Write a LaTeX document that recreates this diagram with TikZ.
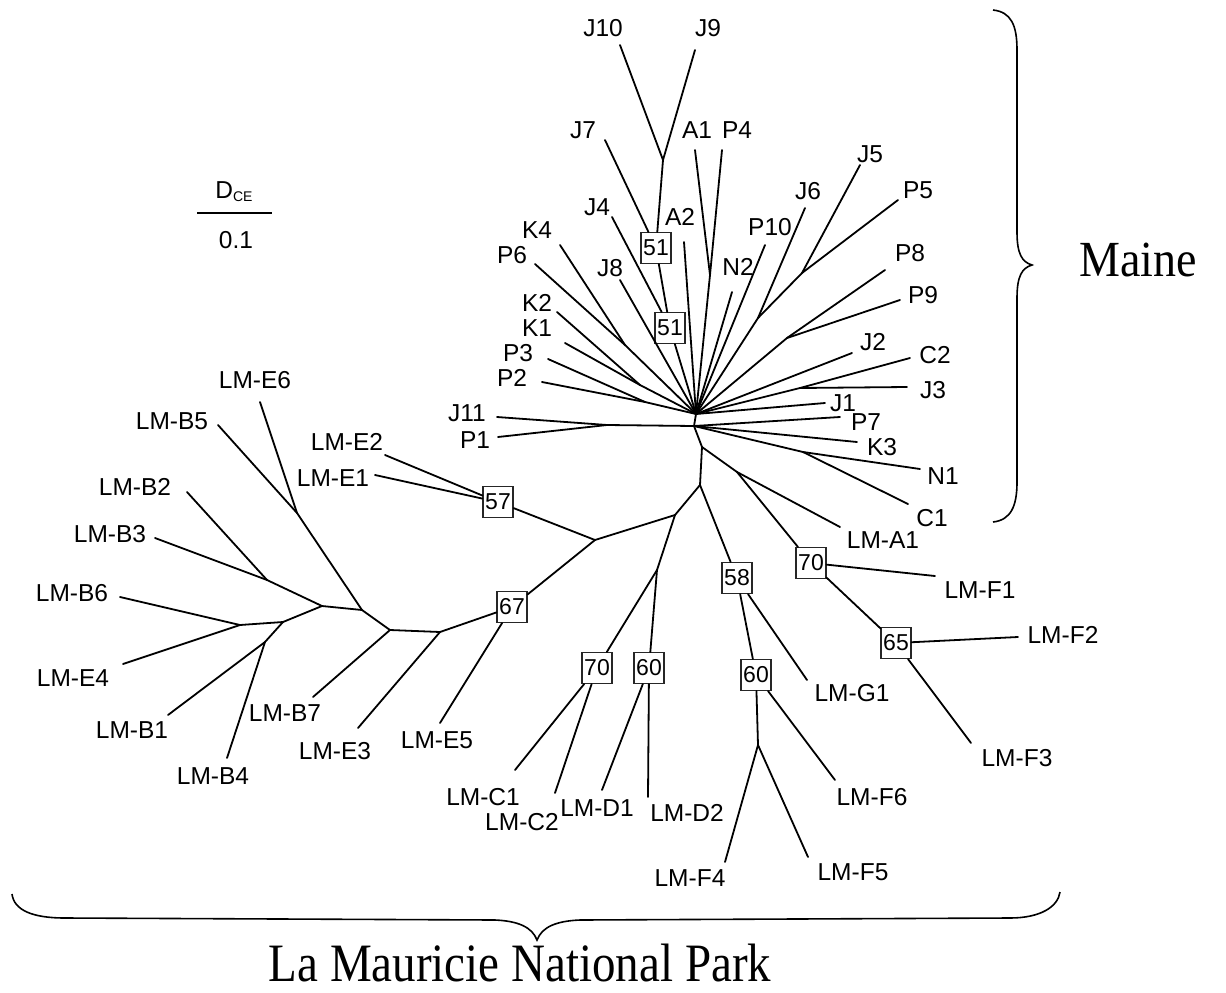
\documentclass[tikz,border=0pt]{standalone}
\usepackage{fontspec}
\setmainfont{Liberation Sans}
\newfontfamily\timesf{Liberation Serif}
\begin{document}
\begin{tikzpicture}[x=1pt,y=-1pt,
  br/.style={line width=1.8pt, line cap=round},
  lab/.style={font=\fontsize{24.5}{28}\selectfont, inner sep=0pt},
  bx/.style={draw=black!85, line width=1.1pt, fill=white, minimum width=30pt, minimum height=31pt, inner sep=0pt, font=\fontsize{23}{24}\selectfont},
  brace/.style={line width=1.6pt}]
\useasboundingbox (0,0) rectangle (1226,993);

% ---------- Maine cluster ----------
\coordinate (H1) at (696,414);
\coordinate (H2) at (694,426);
\coordinate (jJ910) at (663,160);
\coordinate (eJ10) at (620,45);
\coordinate (eJ9) at (695,50);
\node[bx] (b51a) at (656,248) {51};
\node[bx] (b51b) at (670,328) {51};
\coordinate (eJ7) at (605,140);
\coordinate (eJ4) at (612,217);
\coordinate (eJ8) at (620,280);
\coordinate (eA2) at (684,242);
\coordinate (jA1P4) at (710,275);
\coordinate (eA1) at (695,150);
\coordinate (eP4) at (722,150);
\coordinate (eN2) at (732,292);
\coordinate (eP10) at (765,245);
\coordinate (jJ6) at (758,318);
\coordinate (eJ6) at (805,208);
\coordinate (jJ5P5) at (802,273);
\coordinate (eJ5) at (860,165);
\coordinate (eP5) at (898,200);
\coordinate (jP89) at (787,338);
\coordinate (eP8) at (885,270);
\coordinate (eP9) at (900,300);
\coordinate (eJ2) at (852,353);
\coordinate (jC2J3) at (800,388);
\coordinate (eC2) at (910,358);
\coordinate (eJ3) at (907,387);
\coordinate (eJ1) at (825,403);
\coordinate (eP7) at (840,417);
\coordinate (eK3) at (857,442);
\coordinate (jN1C1) at (803,452);
\coordinate (eN1) at (920,469);
\coordinate (eC1) at (908,504);
\coordinate (jP6K4) at (625,345);
\coordinate (eP6) at (535,264);
\coordinate (eK4) at (560,245);
\coordinate (jK12) at (640,385);
\coordinate (eK2) at (557,312);
\coordinate (eK1) at (565,343);
\coordinate (jP23) at (645,402);
\coordinate (eP3) at (548,359);
\coordinate (eP2) at (542,382);
\coordinate (jJ11P1) at (607,425);
\coordinate (eJ11) at (497,417);
\coordinate (eP1) at (498,437);

% ---------- La Mauricie cluster ----------
\coordinate (n1) at (702,447);
\coordinate (n2) at (700,485);
\coordinate (n3) at (737,472);
\coordinate (eLMA1) at (840,527);
\node[bx] (b70F) at (811,563) {70};
\node[bx] (b65) at (896,643) {65};
\coordinate (eF1) at (935,576);
\coordinate (eF2) at (1018,637);
\coordinate (eF3) at (971,743);
\node[bx] (b58) at (737,578) {58};
\node[bx] (b60F) at (756,675) {60};
\coordinate (eG1) at (807,680);
\coordinate (n5) at (758,745);
\coordinate (eF6) at (835,780);
\coordinate (eF4) at (725,862);
\coordinate (eF5) at (808,857);
\coordinate (n4) at (675,515);
\coordinate (n6) at (595,540);
\coordinate (n7) at (657,570);
\node[bx] (b70C) at (597,668) {70};
\node[bx] (b60D) at (649,668) {60};
\coordinate (eLC1) at (515,770);
\coordinate (eLC2) at (555,793);
\coordinate (eD1) at (602,790);
\coordinate (eD2) at (648,797);
\node[bx] (b57) at (498,502) {57};
\node[bx] (b67) at (512,607) {67};
\coordinate (eE2) at (385,455);
\coordinate (eE1) at (375,475);
\coordinate (n8) at (440,632);
\coordinate (eE5) at (440,723);
\coordinate (eE3) at (358,728);
\coordinate (n9) at (390,630);
\coordinate (eB7) at (313,697);
\coordinate (n10) at (362,610);
\coordinate (n11) at (297,513);
\coordinate (eE6) at (260,402);
\coordinate (eB5) at (218,425);
\coordinate (n12) at (322,606);
\coordinate (n13) at (267,580);
\coordinate (eB2) at (187,492);
\coordinate (eB3) at (155,538);
\coordinate (n14) at (283,622);
\coordinate (n15) at (240,625);
\coordinate (eB6) at (120,597);
\coordinate (eE4) at (123,664);
\coordinate (n16) at (265,642);
\coordinate (eB1) at (168,715);
\coordinate (eB4) at (227,758);

% ---------- branches ----------
\foreach \a/\b in {H1/H2, jJ910/eJ10, jJ910/eJ9, jJ910/b51a, eJ7/b51a, b51a/b51b, eJ4/b51b, b51b/H1,
  eJ8/H1, eA2/H1, jA1P4/eA1, jA1P4/eP4, jA1P4/H1, eN2/H1, eP10/H1,
  jJ6/eJ6, jJ6/jJ5P5, jJ5P5/eJ5, jJ5P5/eP5, jJ6/H1,
  jP89/eP8, jP89/eP9, jP89/H1, eJ2/H1, jC2J3/eC2, jC2J3/eJ3, jC2J3/H1, eJ1/H1,
  eP7/H2, eK3/H2, jN1C1/eN1, jN1C1/eC1, jN1C1/H2,
  jP6K4/eP6, jP6K4/eK4, jP6K4/H1, jK12/eK2, jK12/eK1, jK12/H1, jP23/eP3, jP23/eP2, jP23/H1,
  jJ11P1/eJ11, jJ11P1/eP1, jJ11P1/H2,
  H2/n1, n1/n2, n1/n3, n3/eLMA1, n3/b70F, b70F/eF1, b70F/b65, b65/eF2, b65/eF3,
  n2/b58, b58/b60F, b58/eG1, b60F/n5, b60F/eF6, n5/eF4, n5/eF5,
  n2/n4, n4/n6, n4/n7, n7/b70C, n7/b60D, b70C/eLC1, b70C/eLC2, b60D/eD1, b60D/eD2,
  n6/b57, n6/b67, b57/eE2, b57/eE1, b67/n8, b67/eE5, n8/eE3, n8/n9, n9/eB7, n9/n10,
  n10/n11, n11/eE6, n11/eB5, n10/n12, n12/n13, n13/eB2, n13/eB3, n12/n14,
  n14/n15, n15/eB6, n15/eE4, n14/n16, n16/eB1, n16/eB4}
  \draw[br] (\a) -- (\b);

% ---------- labels ----------
\node[lab] (tJ10) at (603,28) {J10};
\node[lab] (tJ9) at (708,28) {J9};
\node[lab] (tJ7) at (583,130) {J7};
\node[lab] (tA1) at (697,130) {A1};
\node[lab] (tP4) at (737,130) {P4};
\node[lab] (tJ4) at (597,207) {J4};
\node[lab] (tA2) at (680,217) {A2};
\node[lab] (tJ8) at (610,268) {J8};
\node[lab] (tN2) at (738,267) {N2};
\node[lab] (tP10) at (770,227) {P10};
\node[lab] (tJ6) at (808,191) {J6};
\node[lab] (tJ5) at (870,154) {J5};
\node[lab] (tP5) at (918,190) {P5};
\node[lab] (tP8) at (910,253) {P8};
\node[lab] (tP9) at (923,295) {P9};
\node[lab] (tJ2) at (873,342) {J2};
\node[lab] (tC2) at (935,355) {C2};
\node[lab] (tJ3) at (933,390) {J3};
\node[lab] (tJ1) at (843,403) {J1};
\node[lab] (tP7) at (866,422) {P7};
\node[lab] (tK3) at (882,447) {K3};
\node[lab] (tN1) at (943,476) {N1};
\node[lab] (tC1) at (932,518) {C1};
\node[lab] (tK4) at (537,230) {K4};
\node[lab] (tP6) at (512,255) {P6};
\node[lab] (tK2) at (537,303) {K2};
\node[lab] (tK1) at (537,328) {K1};
\node[lab] (tP3) at (518,353) {P3};
\node[lab] (tP2) at (512,378) {P2};
\node[lab] (tJ11) at (467,413) {J11};
\node[lab] (tP1) at (475,440) {P1};

\node[lab] (tLMA1) at (883,540) {LM-A1};
\node[lab] (tLMF1) at (980,590) {LM-F1};
\node[lab] (tLMF2) at (1063,635) {LM-F2};
\node[lab] (tLMF3) at (1017,758) {LM-F3};
\node[lab] (tLMG1) at (852,693) {LM-G1};
\node[lab] (tLMF6) at (872,797) {LM-F6};
\node[lab] (tLMF4) at (690,878) {LM-F4};
\node[lab] (tLMF5) at (853,872) {LM-F5};
\node[lab] (tLMD2) at (687,813) {LM-D2};
\node[lab] (tLMD1) at (597,808) {LM-D1};
\node[lab] (tLMC2) at (522,822) {LM-C2};
\node[lab] (tLMC1) at (483,797) {LM-C1};
\node[lab] (tLME5) at (437,740) {LM-E5};
\node[lab] (tLME3) at (335,751) {LM-E3};
\node[lab] (tLMB7) at (285,713) {LM-B7};
\node[lab] (tLMB4) at (213,776) {LM-B4};
\node[lab] (tLMB1) at (132,730) {LM-B1};
\node[lab] (tLME4) at (73,678) {LM-E4};
\node[lab] (tLMB6) at (72,593) {LM-B6};
\node[lab] (tLMB3) at (110,534) {LM-B3};
\node[lab] (tLMB2) at (135,487) {LM-B2};
\node[lab] (tLMB5) at (172,421) {LM-B5};
\node[lab] (tLME6) at (255,380) {LM-E6};
\node[lab] (tLME2) at (347,442) {LM-E2};
\node[lab] (tLME1) at (333,478) {LM-E1};

% ---------- scale bar ----------
\node[lab] (dce) at (234,192) {D\raisebox{-3pt}{\fontsize{14}{16}\selectfont CE}};
\coordinate (sbL) at (197,213);
\coordinate (sbR) at (272,213);
\draw[line width=1.6pt] (sbL) -- (sbR);
\node[lab] (sb) at (236,240) {0.1};

% ---------- braces ----------
\coordinate (mbTop) at (993,10);
\coordinate (mbTip) at (1032,265);
\coordinate (mbBot) at (993,522);
\draw[brace] (mbTop) .. controls (1011,12) and (1017,25) .. (1017,50) -- (1017,232)
  .. controls (1017,254) and (1022,262) .. (mbTip)
  .. controls (1022,268) and (1017,276) .. (1017,298) -- (1017,482)
  .. controls (1017,506) and (1011,520) .. (mbBot);
\node[font=\timesf\fontsize{46}{50}\selectfont, inner sep=0pt] (maine) at (1138,260) {\scalebox{1}[1.1]{Maine}};

\coordinate (lbL) at (12,894);
\coordinate (lbTip) at (537,940);
\coordinate (lbR) at (1060,892);
\draw[brace] (lbL) .. controls (14,910) and (32,918) .. (65,918) -- (495,920)
  .. controls (518,921) and (532,927) .. (lbTip)
  .. controls (542,927) and (556,921) .. (580,920) -- (1010,918)
  .. controls (1040,918) and (1058,907) .. (lbR);
\node[font=\timesf\fontsize{47}{50}\selectfont, inner sep=0pt, anchor=base] (lmnp) at (520,981) {\scalebox{1}[1.15]{La Mauricie National Park}};
\end{tikzpicture}
\end{document}
